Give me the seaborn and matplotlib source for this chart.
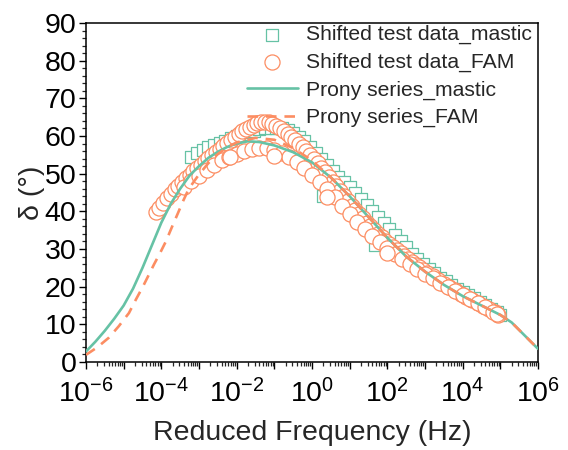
import matplotlib
matplotlib.use("Agg")
import matplotlib.pyplot as plt
import matplotlib.ticker as mticker
import seaborn as sns
import numpy as np

# ---------------- data (log10 of reduced frequency, phase angle in degrees) ----------------
mastic_logf = [-3.2, -3.05, -2.9, -2.75, -2.6, -2.45, -2.3, -2.15, -2.0, -1.85, -1.7, -1.55,
               -1.4, -1.25, -1.1, -0.95, -0.8, -0.65, -0.5, -0.35, -0.2, -0.05, 0.1, 0.25,
               0.4, 0.55, 0.7, 0.85, 1.0, 1.15, 1.3, 1.45, 1.6, 1.75, 1.9, 2.05, 2.2, 2.35,
               2.5, 2.65, 2.8, 2.95, 3.1, 3.25, 3.4, 3.55, 3.7, 3.85, 4.0, 4.15, 4.3, 4.45,
               4.6, 4.75, 4.9, 5.0, 0.29, 1.67]
mastic_delta = [54.5, 55.5, 56.3, 57.0, 57.6, 58.2, 58.8, 59.4, 60.0, 60.5, 61.0, 61.4,
                61.8, 62.0, 62.2, 62.2, 62.0, 61.5, 60.8, 59.8, 58.6, 57.2, 55.6, 54.0,
                52.3, 50.7, 49.2, 47.8, 46.4, 45.0, 43.4, 41.8, 40.2, 38.6, 37.0, 35.4, 33.8, 32.1,
                30.4, 28.8, 27.3, 25.9, 24.7, 23.5, 22.4, 21.4, 20.4, 19.5, 18.6, 17.7, 16.9, 16.0,
                15.1, 14.2, 13.3, 12.6, 44.0, 31.0]

fam_logf = [-4.15, -4.05, -3.95, -3.85, -3.75, -3.65, -3.55, -3.45, -3.35, -3.25, -3.15, -3.05,
            -2.95, -2.85, -2.75, -2.65, -2.55, -2.45, -2.35, -2.25, -2.15, -2.05, -1.95, -1.85,
            -1.75, -1.65, -1.55, -1.45, -1.35, -1.25, -1.15, -1.05, -0.95, -0.85, -0.75, -0.65,
            -0.55, -0.45, -0.35, -0.25, -0.15, -0.05, 0.05, 0.15, 0.25, 0.35, 0.45, 0.55,
            0.65, 0.75, 0.85, 0.95, 1.05, 1.15, 1.25, 1.35, 1.45, 1.55, 1.65, 1.75,
            1.85, 1.95, 2.05, 2.15, 2.25, 2.35, 2.45, 2.55, 2.65, 2.75, 2.85, 2.95,
            3.05, 3.2, 3.35, 3.5, 3.65, 3.8, 3.95, 4.1, 4.25, 4.4, 4.55, 4.7, 4.85, 4.95,
            -3.4, -3.2, -3.0, -2.8, -2.6, -2.4, -2.2, -2.0, -1.8, -1.6, -1.4, -1.2,
            -1.0, -0.8, -0.6, -0.4, -0.2, 0.0, 0.2, 0.4, 0.6, 0.8, 1.0, 1.2,
            1.4, 1.6, 1.8, 2.0, 2.2, 2.4, 2.6, 2.8, 3.0, 3.2, 3.4, 3.6,
            3.8, 4.0, 4.2, 4.4, 4.6, 4.8, 4.9,
            -2.18, -1.01, 0.40, 1.99]
fam_delta = [39.8, 41.0, 42.3, 43.5, 44.7, 45.8, 46.8, 47.8, 48.8, 49.7, 50.6, 51.5,
             52.4, 53.3, 54.1, 54.9, 55.7, 56.5, 57.3, 58.1, 58.9, 59.7, 60.5, 61.2,
             61.9, 62.5, 63.0, 63.4, 63.7, 63.8, 63.6, 63.2, 62.7, 62.1, 61.4, 60.6,
             59.8, 58.9, 58.0, 57.0, 56.0, 55.0, 53.9, 52.8, 51.6, 50.4, 49.2, 47.9,
             46.6, 45.3, 44.0, 42.7, 41.5, 40.3, 39.2, 38.1, 37.0, 36.0, 35.0, 34.0,
             33.1, 32.2, 31.3, 30.5, 29.7, 28.9, 28.1, 27.3, 26.5, 25.8, 25.1, 24.4,
             23.7, 22.7, 21.7, 20.8, 19.9, 19.0, 18.1, 17.3, 16.5, 15.7, 14.9, 14.1, 13.3, 12.5,
             46.5, 48.0, 49.5, 51.0, 52.3, 53.5, 54.5, 55.3, 56.0, 56.5, 56.8, 56.8,
             56.3, 55.5, 54.4, 53.0, 51.4, 49.7, 47.8, 45.8, 43.7, 41.5, 39.3, 37.2,
             35.3, 33.5, 31.8, 30.2, 28.7, 27.3, 25.9, 24.6, 23.4, 22.2, 21.1, 20.0,
             18.9, 17.8, 16.7, 15.6, 14.5, 13.4, 12.8,
             54.4, 54.7, 43.8, 29.0]

prony_mastic_logf = [-6.0, -5.75, -5.5, -5.25, -5.0, -4.75, -4.5, -4.25, -4.0, -3.75, -3.5,
                     -3.25, -3.0, -2.75, -2.5, -2.25, -2.0, -1.7, -1.4, -1.0, -0.5, 0.0, 0.5,
                     1.0, 1.5, 2.0, 2.5, 3.0, 3.5, 4.0, 4.5, 5.0, 5.3, 5.6, 6.0]
prony_mastic_delta = [2.8, 5.4, 8.3, 11.5, 15.0, 19.5, 25.0, 31.0, 37.0, 42.0, 46.0,
                      49.5, 52.0, 54.2, 55.8, 57.1, 58.0, 58.6, 58.4, 57.5, 55.7, 53.0, 49.0,
                      44.0, 38.5, 33.0, 28.0, 24.0, 20.5, 17.5, 15.0, 12.5, 10.5, 7.5, 3.5]

prony_fam_logf = [-6.0, -5.7, -5.4, -5.13, -4.86, -4.68, -4.49, -4.34, -4.19, -4.03, -3.88,
                  -3.72, -3.56, -3.41, -3.27, -3.0, -2.75, -2.5, -2.25, -2.0, -1.5,
                  -1.0, -0.5, 0.0, 0.5, 1.0, 1.5, 2.0, 2.5, 3.0, 3.5, 4.0, 4.5, 5.0, 5.3, 5.6, 6.0]
prony_fam_delta = [1.9, 3.9, 6.4, 9.5, 13.0, 16.5, 20.0, 23.0, 26.0, 29.0, 32.0,
                   35.8, 39.5, 43.0, 46.0, 49.8, 52.8, 55.2, 57.0, 58.3, 59.5,
                   59.0, 56.8, 53.5, 49.0, 44.0, 38.5, 33.0, 28.0, 24.0, 20.5, 17.5, 15.0, 12.5, 10.5, 7.5, 3.5]

labels = ["Shifted test data_mastic", "Shifted test data_FAM",
          "Prony series_mastic", "Prony series_FAM"]
x_tick_exponents = [-6, -4, -2, 0, 2, 4, 6]

green = "#66c2a5"
orange = "#fc8d62"

# ---------------- style ----------------
sns.set_style("ticks")
plt.rcParams["font.family"] = ["Liberation Sans", "DejaVu Sans"]
plt.rcParams["mathtext.fontset"] = "custom"
plt.rcParams["mathtext.rm"] = "Liberation Sans"
plt.rcParams["mathtext.it"] = "Liberation Sans:italic"
plt.rcParams["mathtext.default"] = "regular"

fig = plt.figure(figsize=(5.68, 4.5), dpi=100)
ax = fig.add_axes([86 / 568, 1 - 362 / 450, (538 - 86) / 568, (362 - 23) / 450])

mf = [10.0 ** v for v in mastic_logf]
ff = [10.0 ** v for v in fam_logf]
pmf = [10.0 ** v for v in prony_mastic_logf]
pff = [10.0 ** v for v in prony_fam_logf]

sns.scatterplot(x=mf, y=mastic_delta, marker="s", s=70, facecolor="white",
                edgecolor=green, linewidth=0.9, ax=ax, zorder=2, label=labels[0])
sns.scatterplot(x=ff, y=fam_delta, marker="o", s=118, facecolor="white",
                edgecolor=orange, linewidth=0.9, ax=ax, zorder=3, label=labels[1])
sns.lineplot(x=pmf, y=prony_mastic_delta, color=green, linewidth=1.9, ax=ax,
             zorder=4, label=labels[2])
sns.lineplot(x=pff, y=prony_fam_delta, color=orange, linewidth=1.9, ax=ax,
             zorder=5, label=labels[3])
ax.lines[-1].set_dashes([4.0, 3.0])

ax.set_xscale("log")
ax.set_xlim(1e-6, 1e6)
ax.set_ylim(0, 90)

ax.xaxis.set_major_locator(mticker.FixedLocator([10.0 ** e for e in range(-6, 7)]))
def xfmt(v, pos):
    e = int(round(np.log10(v)))
    return r"$10^{%d}$" % e if e in x_tick_exponents else ""
ax.xaxis.set_major_formatter(mticker.FuncFormatter(xfmt))
ax.xaxis.set_minor_locator(mticker.LogLocator(base=10, subs=np.arange(2, 10), numticks=100))
ax.xaxis.set_minor_formatter(mticker.NullFormatter())
ax.yaxis.set_major_locator(mticker.MultipleLocator(10))
ax.yaxis.set_minor_locator(mticker.MultipleLocator(2))

ax.tick_params(which="major", direction="out", length=5, width=1.0, labelsize=20.5, colors="black")
ax.tick_params(which="minor", direction="out", length=2.8, width=0.9)
ax.tick_params(axis="x", pad=7)
ax.tick_params(axis="y", pad=2)
for sp in ax.spines.values():
    sp.set_visible(True)
    sp.set_linewidth(1.1)
    sp.set_color("black")

ax.set_xlabel("Reduced Frequency (Hz)", fontsize=20.5, labelpad=9)
ax.set_ylabel("δ (°)", fontsize=20.5, labelpad=0)

leg = ax.legend(loc="upper right", bbox_to_anchor=(1 - 4 / 452, 1.0), frameon=False,
                fontsize=15.2, handlelength=2.4, borderaxespad=0.0, labelspacing=0.4,
                handletextpad=0.4, borderpad=0.1)

fig.savefig("out.png", dpi=100)
